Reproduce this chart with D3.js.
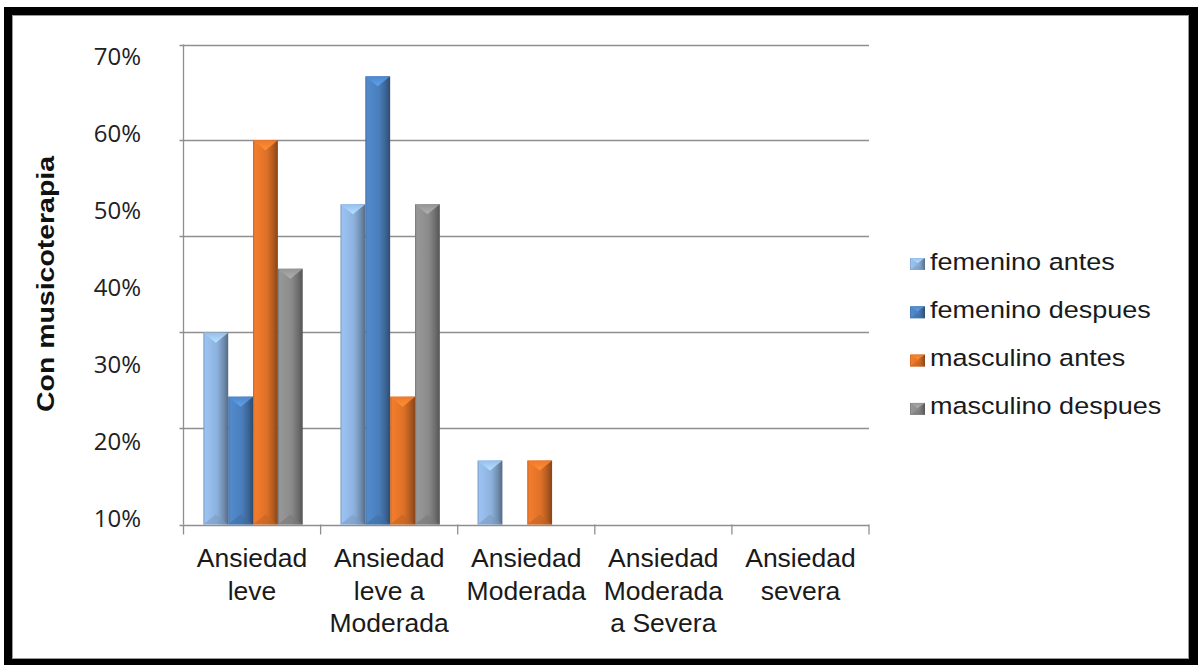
<!DOCTYPE html>
<html>
<head>
<meta charset="utf-8">
<script src="https://cdn.jsdelivr.net/npm/d3@7"></script>
<style>
  html, body { margin: 0; padding: 0; background: #fff; }
  svg { display: block; }
</style>
</head>
<body>
<svg id="chart" width="1198" height="665"></svg>
<script>
// Niveles de ansiedad (categorías del eje X), una línea de texto por elemento
const categories = [
  ["Ansiedad", "leve"],
  ["Ansiedad", "leve a", "Moderada"],
  ["Ansiedad", "Moderada"],
  ["Ansiedad", "Moderada", "a Severa"],
  ["Ansiedad", "severa"]
];

// Series (porcentaje de pacientes en cada nivel)
const seriesNames = ["femenino antes", "femenino despues", "masculino antes", "masculino despues"];
const femeninoAntes    = [33.3, 55.6, 11.1, 0, 0];
const femeninoDespues  = [22.2, 77.8, 0, 0, 0];
const masculinoAntes   = [66.7, 22.2, 11.1, 0, 0];
const masculinoDespues = [44.4, 55.6, 0, 0, 0];
const seriesColors = ["#8db1dd", "#4a7ebb", "#de7128", "#8a8a8a"];

// Etiquetas del eje Y
const yTickLabels = ["70%", "60%", "50%", "40%", "30%", "20%", "10%"];
const yTitle = "Con musicoterapia";

const seriesValues = [femeninoAntes, femeninoDespues, masculinoAntes, masculinoDespues];
const catKeys = categories.map(c => c.join(" "));

const svg = d3.select("#chart");
const defs = svg.append("defs");

// Marco negro alrededor del gráfico
svg.append("rect").attr("x", 4).attr("y", 7).attr("width", 1194).attr("height", 658).attr("fill", "#000");
svg.append("rect").attr("x", 12.5).attr("y", 15.5).attr("width", 1176).attr("height", 643)
  .attr("fill", "#fff").attr("stroke", "#9a9a9a").attr("stroke-width", 1);

// Escalas
const plot = { left: 183.5, right: 869, top: 44.5, bottom: 524.5 };
const x = d3.scaleBand().domain(catKeys).range([plot.left, plot.right]).paddingInner(0).paddingOuter(0);
const xs = d3.scaleBand().domain(seriesNames).range([1, x.bandwidth() + 1]).paddingInner(0).paddingOuter(0.76);
const y = d3.scaleLinear().domain([0, 500 / 6]).range([plot.bottom, plot.top]);
const gridValues = d3.range(0, 6).map(i => i * 100 / 6);
const yLabelPos = d3.scalePoint().domain(yTickLabels).range([56.5, 518.5]);

// Degradados de cada serie (efecto de relieve)
seriesNames.forEach((s, i) => {
  const c = d3.color(seriesColors[i]);
  const g = defs.append("linearGradient").attr("id", "face" + i).attr("x1", 0).attr("x2", 1).attr("y1", 0).attr("y2", 0);
  [[0, c.darker(0.5)], [0.07, c.brighter(0.25)], [0.3, c.brighter(0.15)], [0.55, c], [0.8, c.darker(0.6)], [1, c.darker(1.4)]]
    .forEach(([o, col]) => g.append("stop").attr("offset", o).attr("stop-color", col.formatHex()));
  const t = defs.append("linearGradient").attr("id", "cap" + i).attr("x1", 0).attr("x2", 0).attr("y1", 0).attr("y2", 1);
  t.append("stop").attr("offset", 0).attr("stop-color", c.brighter(0.2).formatHex());
  t.append("stop").attr("offset", 1).attr("stop-color", c.brighter(0.7).formatHex());
});

// Cuadrícula horizontal
svg.append("g").selectAll("line").data(gridValues).join("line")
  .attr("x1", plot.left - 4).attr("x2", plot.right)
  .attr("y1", d => Math.round(y(d)) + 0.5).attr("y2", d => Math.round(y(d)) + 0.5)
  .attr("stroke", "#8f8f8f").attr("stroke-width", 1.3);

// Eje Y (línea) y marcas de categoría en el eje X
svg.append("line").attr("x1", plot.left).attr("x2", plot.left).attr("y1", plot.top).attr("y2", plot.bottom)
  .attr("stroke", "#8f8f8f").attr("stroke-width", 1.3);
const catEdges = catKeys.map(k => x(k)).concat([plot.right]);
svg.append("g").selectAll("line").data(catEdges).join("line")
  .attr("x1", d => d).attr("x2", d => d).attr("y1", plot.bottom).attr("y2", plot.bottom + 10)
  .attr("stroke", "#8f8f8f").attr("stroke-width", 1.3);

// Barras
const bars = [];
catKeys.forEach((k, ci) => seriesNames.forEach((s, si) => {
  const v = seriesValues[si][ci];
  if (v > 0) bars.push({ k, s, si, v });
}));
const barG = svg.append("g").selectAll("g").data(bars).join("g");
barG.each(function(d) {
  const g = d3.select(this);
  const x0 = x(d.k) + xs(d.s), w = xs.bandwidth(), x1 = x0 + w, xm = x0 + w / 2;
  const yt = y(d.v), yb = y(0);
  const cap = Math.min(10, (yb - yt) / 2);
  const c = d3.color(seriesColors[d.si]);
  g.append("rect").attr("x", x0).attr("y", yt).attr("width", w).attr("height", yb - yt)
    .attr("fill", `url(#face${d.si})`);
  g.append("path").attr("d", `M${x0},${yt}L${x1},${yt}L${xm},${yt + cap}Z`).attr("fill", `url(#cap${d.si})`);
  g.append("path").attr("d", `M${x0},${yb}L${x1},${yb}L${xm},${yb - cap}Z`)
    .attr("fill", c.darker(0.4).formatHex()).attr("opacity", 0.55);
});

// Etiquetas del eje Y
svg.append("g").selectAll("text").data(yTickLabels).join("text")
  .attr("x", 141).attr("y", d => yLabelPos(d)).attr("dy", "0.35em")
  .attr("text-anchor", "end")
  .attr("font-family", "'Open Sans', sans-serif").attr("font-size", 24).attr("fill", "#222")
  .text(d => d);

// Título del eje Y
svg.append("text")
  .attr("transform", "translate(54,284) rotate(-90)")
  .attr("text-anchor", "middle")
  .attr("font-family", "'Liberation Sans', Arial, sans-serif").attr("font-weight", "bold")
  .attr("font-size", 23).attr("fill", "#111")
  .attr("textLength", 256).attr("lengthAdjust", "spacingAndGlyphs")
  .text(yTitle);

// Etiquetas del eje X
const xLab = svg.append("g").selectAll("text").data(categories).join("text")
  .attr("text-anchor", "middle")
  .attr("font-family", "'Liberation Sans', Arial, sans-serif").attr("font-size", 26.5).attr("fill", "#1a1a1a")
  .attr("transform", (d, i) => `translate(${x(catKeys[i]) + x.bandwidth() / 2},567)`);
xLab.selectAll("tspan").data(d => d).join("tspan")
  .attr("x", 0).attr("y", (d, i) => i * 32.5).text(d => d);

// Leyenda
const legend = svg.append("g").selectAll("g").data(seriesNames).join("g")
  .attr("transform", (d, i) => `translate(910,${258 + i * 48.3})`);
legend.each(function(d, i) {
  const g = d3.select(this);
  const c = d3.color(seriesColors[i]);
  g.append("rect").attr("width", 15).attr("height", 12).attr("fill", `url(#face${i})`);
  g.append("path").attr("d", "M0,0L15,0L7.5,5Z").attr("fill", `url(#cap${i})`);
  g.append("path").attr("d", "M0,12L15,12L7.5,7Z").attr("fill", c.darker(0.4).formatHex()).attr("opacity", 0.55);
});
legend.append("text")
  .attr("transform", "translate(20,11.5) scale(1.15,1)")
  .attr("font-family", "'Liberation Sans', Arial, sans-serif").attr("font-size", 23.5).attr("fill", "#1a1a1a")
  .text(d => d);
</script>
</body>
</html>
